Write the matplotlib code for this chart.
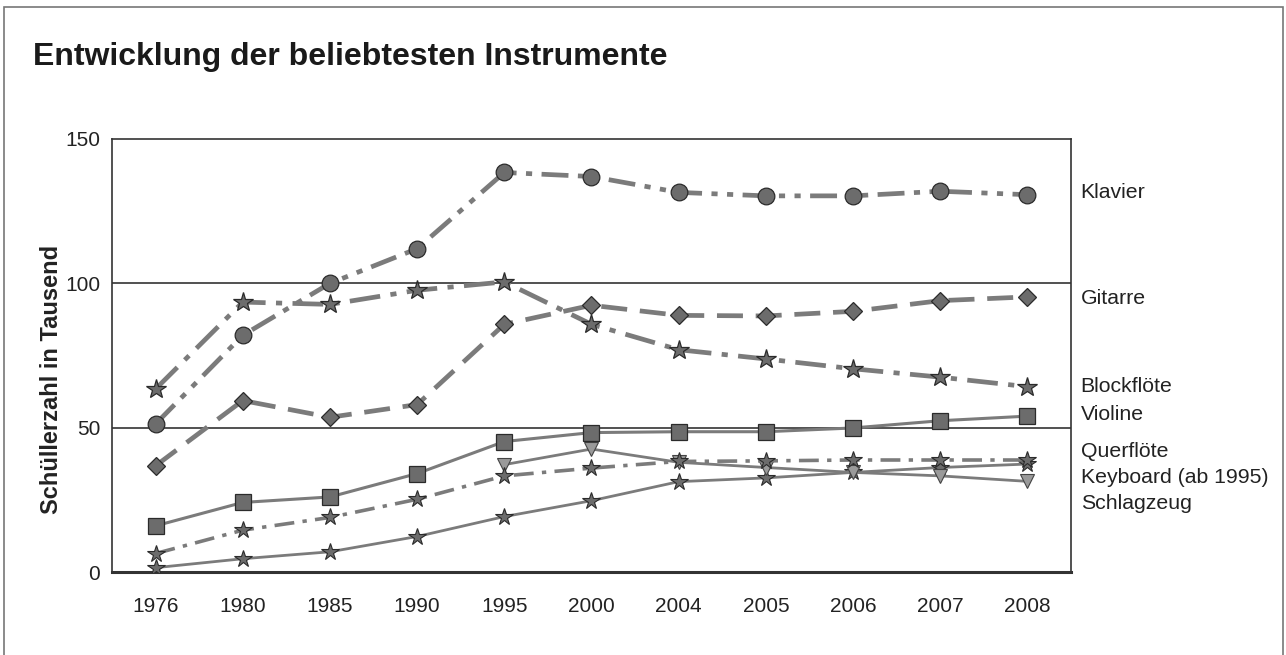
import matplotlib
matplotlib.use('Agg')
import matplotlib.pyplot as plt
from matplotlib.patches import Rectangle

plt.rcParams['font.family'] = ['Liberation Sans', 'DejaVu Sans']

years = ['1976', '1980', '1985', '1990', '1995', '2000', '2004', '2005', '2006', '2007', '2008']

klavier = [51.3, 82, 100, 112, 138.4, 137, 131.5, 130.3, 130.3, 131.9, 130.7]
gitarre = [36.8, 59.4, 53.6, 58, 85.8, 92.4, 88.9, 88.7, 90.3, 94, 95.3]
blockfloete = [63.4, 93.5, 92.7, 97.6, 100.5, 85.8, 77, 73.8, 70.4, 67.5, 64.2]
violine = [16, 24.1, 26, 34.1, 45.2, 48.3, 48.6, 48.6, 49.9, 52.4, 54]
querfloete = [6.4, 14.5, 18.9, 25.2, 33.3, 36, 38.3, 38.5, 38.8, 38.8, 38.8]
keyboard = [None, None, None, None, 37.2, 42.6, 38, 36.2, 34.5, 33.3, 31.4]
schlagzeug = [1.5, 4.6, 7, 12.3, 19.2, 24.7, 31.3, 32.6, 34.5, 36.2, 37.4]

labels = ['Klavier', 'Gitarre', 'Blockflöte', 'Violine', 'Querflöte',
          'Keyboard (ab 1995)', 'Schlagzeug']

line_col = '#7b7b7b'
mfc = '#6c6c6c'
mec = '#2b2b2b'

fig = plt.figure(figsize=(12.86, 6.55), dpi=100)
ax = fig.add_axes([0.0871, 0.1267, 0.7457, 0.6611])

x = list(range(len(years)))
kb_x = [i for i, v in zip(x, keyboard) if v is not None]
kb_y = [v for v in keyboard if v is not None]

# solid thin lines first
ax.plot(x, schlagzeug, color=line_col, lw=2.0, marker='*', ms=13,
        mfc=mfc, mec=mec, mew=0.8, zorder=3)
ax.plot(kb_x, kb_y, color=line_col, lw=2.0, marker='v', ms=10,
        mfc='#9a9a9a', mec='#444444', mew=0.8, zorder=3)
ax.plot(x, querfloete, color=line_col, lw=2.6, marker='*', ms=13,
        mfc=mfc, mec=mec, mew=0.8, dashes=(5.5, 2.3, 1.2, 2.3), zorder=3)
ax.plot(x, violine, color=line_col, lw=2.2, marker='s', ms=11,
        mfc=mfc, mec=mec, mew=0.9, zorder=4)
ax.plot(x, gitarre, color=line_col, lw=3.4, marker='D', ms=9,
        mfc=mfc, mec=mec, mew=0.9, dashes=(5.5, 2.7), zorder=4)
ax.plot(x, blockfloete, color=line_col, lw=3.4, marker='*', ms=15,
        mfc=mfc, mec=mec, mew=0.9, dashes=(6.5, 2.2, 1.3, 2.2), zorder=4)
ax.plot(x, klavier, color=line_col, lw=3.4, marker='o', ms=12,
        mfc=mfc, mec=mec, mew=0.9, dashes=(5.7, 2.0, 1.3, 2.0, 1.3, 2.0), zorder=5)

ax.set_xlim(-0.5, len(years) - 0.5)
ax.set_ylim(0, 150)
ax.set_xticks(x)
ax.set_xticklabels(years)
ax.set_yticks([0, 50, 100, 150])
ax.tick_params(axis='both', length=0, labelsize=15, colors='#222222')
ax.tick_params(axis='x', pad=18)
ax.tick_params(axis='y', pad=8.5)

for v in [50, 100]:
    ax.axhline(v, color='#222222', lw=1.1, zorder=1)

for s in ['top', 'left', 'right']:
    ax.spines[s].set_color('#333333')
    ax.spines[s].set_linewidth(1.2)
ax.spines['bottom'].set_color('#333333')
ax.spines['bottom'].set_linewidth(2.2)

ax.set_ylabel('Schüllerzahl in Tausend', fontsize=17, fontweight='bold', color='#222222')
ax.yaxis.set_label_coords(-0.051, 0.445)

# labels at the right side
label_y = [131.6, 94.8, 64.2, 54.5, 41.7, 32.6, 23.6]
for txt, yy in zip(labels, label_y):
    ax.text(1.01, yy, txt, transform=ax.get_yaxis_transform(), fontsize=15.3,
            va='center', ha='left', color='#222222')

fig.text(33 / 1286, 1 - 65 / 655, 'Entwicklung der beliebtesten Instrumente',
         fontsize=23, fontweight='bold', color='#1a1a1a', va='baseline')

fig.patches.append(Rectangle((0.003, -0.01), 0.995, 1.01 - 7 / 655,
                             transform=fig.transFigure, fill=False,
                             edgecolor='#777777', lw=1.2))

fig.savefig('out.png', dpi=100)
